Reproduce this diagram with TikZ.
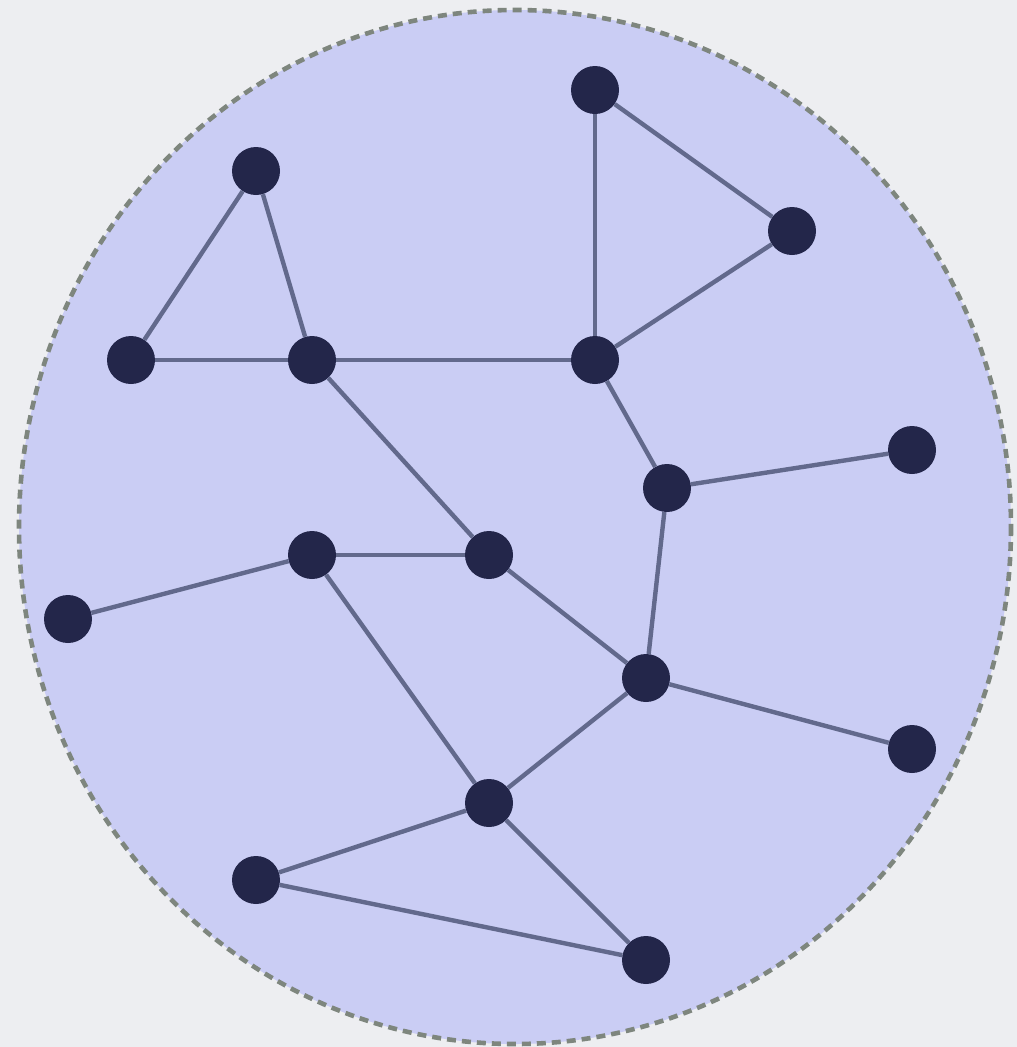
\documentclass[tikz,border=0pt]{standalone}
\definecolor{bgc}{HTML}{EDEEF1}
\definecolor{fillc}{HTML}{CACDF4}
\definecolor{rimc}{HTML}{7E867E}
\definecolor{nodec}{HTML}{23264A}
\definecolor{edgec}{HTML}{62698C}
\begin{document}
\begin{tikzpicture}[x=1pt,y=-1pt,
  vtx/.style={circle,fill=nodec,draw=none,minimum size=48pt,inner sep=0pt},
  edg/.style={draw=edgec,line width=4.4pt}]
\fill[bgc] (0,0) rectangle (1017,1047);
\useasboundingbox (0,0) rectangle (1017,1047);
\path[fill=fillc,draw=rimc,line width=4.6pt,dash pattern=on 9pt off 6pt] (515,527) ellipse [x radius=496, y radius=517];
\node[vtx] (n1) at (595,90) {};
\node[vtx] (n2) at (792,231) {};
\node[vtx] (n3) at (256,171) {};
\node[vtx] (n4) at (131,360) {};
\node[vtx] (n5) at (312,360) {};
\node[vtx] (n6) at (595,360) {};
\node[vtx] (n7) at (667,488) {};
\node[vtx] (n8) at (912,450) {};
\node[vtx] (n9) at (312,555) {};
\node[vtx] (n10) at (489,555) {};
\node[vtx] (n11) at (68,619) {};
\node[vtx] (n12) at (646,678) {};
\node[vtx] (n13) at (912,749) {};
\node[vtx] (n14) at (489,803) {};
\node[vtx] (n15) at (256,880) {};
\node[vtx] (n16) at (646,960) {};
\foreach \a/\b in {n1/n2,n1/n6,n2/n6,n3/n4,n3/n5,n4/n5,n5/n6,n5/n10,n6/n7,n7/n8,n7/n12,n9/n10,n9/n11,n9/n14,n10/n12,n12/n13,n12/n14,n14/n15,n14/n16,n15/n16}
  \path[edg] (\a) -- (\b);
\end{tikzpicture}
\end{document}
